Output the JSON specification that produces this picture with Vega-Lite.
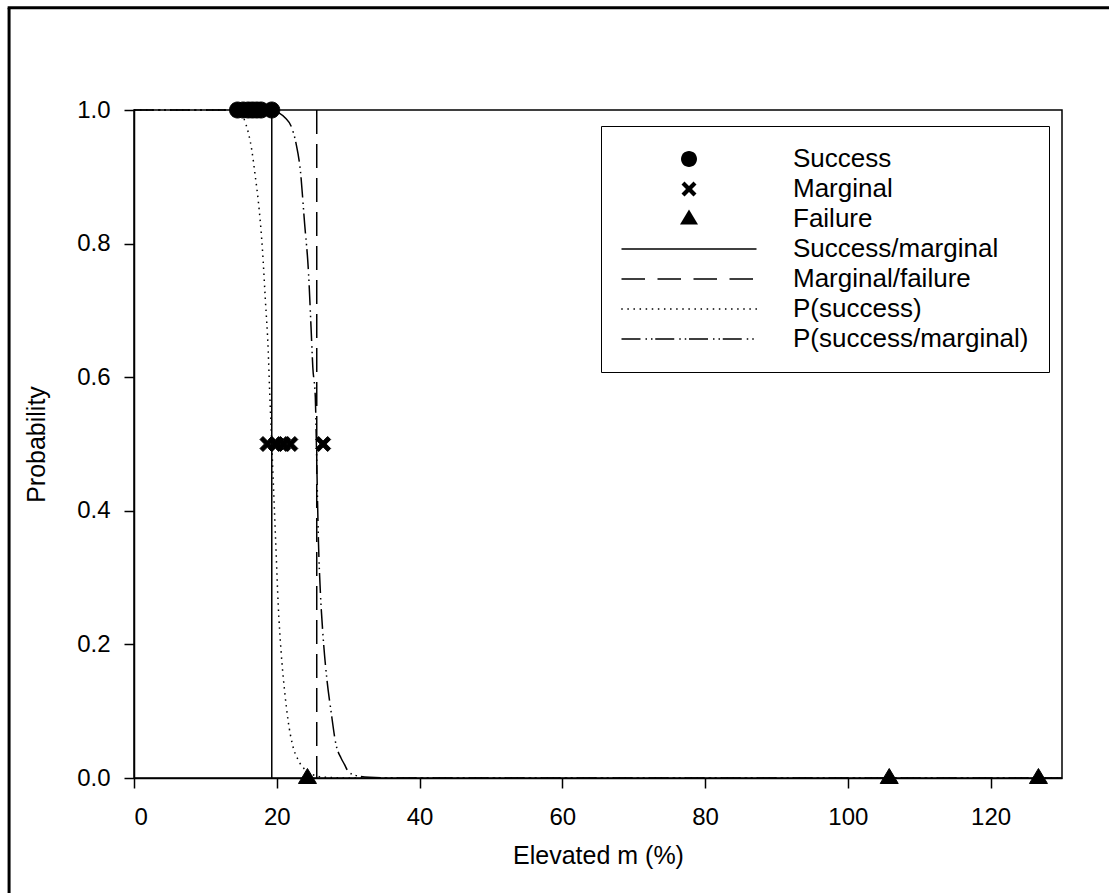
{
  "$schema": "https://vega.github.io/schema/vega-lite/v6.json",
  "width": 928,
  "height": 668,
  "autosize": {"type": "none"},
  "padding": {"left": 134, "top": 110, "right": 47, "bottom": 115},
  "background": "white",
  "config": {
    "font": "Liberation Sans",
    "view": {"stroke": "black", "strokeWidth": 1.5},
    "axis": {
      "grid": false,
      "domainColor": "black",
      "domainWidth": 1.5,
      "tickColor": "black",
      "tickWidth": 1.5,
      "tickSize": 10,
      "labelColor": "black",
      "labelFont": "Liberation Sans",
      "labelFontSize": 24,
      "titleColor": "black",
      "titleFont": "Liberation Sans",
      "titleFontSize": 25,
      "titleFontWeight": "normal"
    },
    "legend": {
      "orient": "none",
      "legendX": 467,
      "legendY": 16,
      "padding": 20,
      "strokeColor": "black",
      "fillColor": "white",
      "labelFont": "Liberation Sans",
      "labelFontSize": 26,
      "labelColor": "black",
      "labelLimit": 400,
      "rowPadding": 4,
      "symbolSize": 4,
      "symbolOffset": 55,
      "labelOffset": 91,
      "symbolFillColor": "black",
      "symbolStrokeColor": "black",
      "symbolStrokeWidth": 0
    }
  },
  "datasets": {
    "observations": [
      {"m": 14.5, "p": 1, "series": "Success"},
      {"m": 15.3, "p": 1, "series": "Success"},
      {"m": 16.0, "p": 1, "series": "Success"},
      {"m": 16.6, "p": 1, "series": "Success"},
      {"m": 17.2, "p": 1, "series": "Success"},
      {"m": 17.8, "p": 1, "series": "Success"},
      {"m": 19.3, "p": 1, "series": "Success"},
      {"m": 18.7, "p": 0.5, "series": "Marginal"},
      {"m": 19.9, "p": 0.5, "series": "Marginal"},
      {"m": 20.9, "p": 0.5, "series": "Marginal"},
      {"m": 21.9, "p": 0.5, "series": "Marginal"},
      {"m": 26.5, "p": 0.5, "series": "Marginal"},
      {"m": 24.3, "p": 0, "series": "Failure"},
      {"m": 105.8, "p": 0, "series": "Failure"},
      {"m": 126.7, "p": 0, "series": "Failure"}
    ],
    "thresholds": [
      {"m": 19.3, "series": "Success/marginal"},
      {"m": 25.6, "series": "Marginal/failure"}
    ],
    "curves": [
      {"m": 0, "p": 1, "series": "P(success)"},
      {"m": 10, "p": 1, "series": "P(success)"},
      {"m": 13, "p": 1, "series": "P(success)"},
      {"m": 14, "p": 0.999, "series": "P(success)"},
      {"m": 15, "p": 0.994, "series": "P(success)"},
      {"m": 15.7, "p": 0.978, "series": "P(success)"},
      {"m": 16.5, "p": 0.94, "series": "P(success)"},
      {"m": 17.0, "p": 0.9, "series": "P(success)"},
      {"m": 17.4, "p": 0.865, "series": "P(success)"},
      {"m": 18.0, "p": 0.79, "series": "P(success)"},
      {"m": 18.4, "p": 0.716, "series": "P(success)"},
      {"m": 18.8, "p": 0.64, "series": "P(success)"},
      {"m": 19.0, "p": 0.58, "series": "P(success)"},
      {"m": 19.3, "p": 0.5, "series": "P(success)"},
      {"m": 19.6, "p": 0.42, "series": "P(success)"},
      {"m": 19.9, "p": 0.34, "series": "P(success)"},
      {"m": 20.2, "p": 0.26, "series": "P(success)"},
      {"m": 20.6, "p": 0.19, "series": "P(success)"},
      {"m": 21.1, "p": 0.13, "series": "P(success)"},
      {"m": 21.6, "p": 0.085, "series": "P(success)"},
      {"m": 22.2, "p": 0.05, "series": "P(success)"},
      {"m": 23.0, "p": 0.027, "series": "P(success)"},
      {"m": 24.0, "p": 0.012, "series": "P(success)"},
      {"m": 25.0, "p": 0.005, "series": "P(success)"},
      {"m": 27.0, "p": 0.001, "series": "P(success)"},
      {"m": 30.0, "p": 0, "series": "P(success)"},
      {"m": 130, "p": 0, "series": "P(success)"},
      {"m": 0, "p": 1, "series": "P(success/marginal)"},
      {"m": 15, "p": 1, "series": "P(success/marginal)"},
      {"m": 18, "p": 1, "series": "P(success/marginal)"},
      {"m": 19.5, "p": 0.998, "series": "P(success/marginal)"},
      {"m": 20.4, "p": 0.995, "series": "P(success/marginal)"},
      {"m": 21.2, "p": 0.988, "series": "P(success/marginal)"},
      {"m": 22.0, "p": 0.976, "series": "P(success/marginal)"},
      {"m": 22.7, "p": 0.95, "series": "P(success/marginal)"},
      {"m": 23.3, "p": 0.91, "series": "P(success/marginal)"},
      {"m": 23.9, "p": 0.83, "series": "P(success/marginal)"},
      {"m": 24.45, "p": 0.756, "series": "P(success/marginal)"},
      {"m": 24.8, "p": 0.675, "series": "P(success/marginal)"},
      {"m": 25.05, "p": 0.615, "series": "P(success/marginal)"},
      {"m": 25.4, "p": 0.57, "series": "P(success/marginal)"},
      {"m": 25.55, "p": 0.5, "series": "P(success/marginal)"},
      {"m": 25.7, "p": 0.42, "series": "P(success/marginal)"},
      {"m": 25.85, "p": 0.35, "series": "P(success/marginal)"},
      {"m": 26.1, "p": 0.28, "series": "P(success/marginal)"},
      {"m": 26.5, "p": 0.21, "series": "P(success/marginal)"},
      {"m": 27.0, "p": 0.15, "series": "P(success/marginal)"},
      {"m": 27.6, "p": 0.1, "series": "P(success/marginal)"},
      {"m": 28.3, "p": 0.05, "series": "P(success/marginal)"},
      {"m": 29.0, "p": 0.03, "series": "P(success/marginal)"},
      {"m": 29.5, "p": 0.02, "series": "P(success/marginal)"},
      {"m": 30.0, "p": 0.01, "series": "P(success/marginal)"},
      {"m": 31.0, "p": 0.004, "series": "P(success/marginal)"},
      {"m": 33.0, "p": 0.001, "series": "P(success/marginal)"},
      {"m": 36.0, "p": 0, "series": "P(success/marginal)"},
      {"m": 130, "p": 0, "series": "P(success/marginal)"}
    ]
  },
  "layer": [
    {
      "description": "figure frame, left edge",
      "data": {"values": [{}]},
      "mark": {"type": "rule", "color": "black", "strokeWidth": 3, "clip": false},
      "encoding": {
        "x": {"datum": -17.5, "type": "quantitative", "scale": {"domain": [0, 130], "nice": false, "zero": false}},
        "y": {"datum": 1.1531, "type": "quantitative", "scale": {"domain": [0, 1], "nice": false}},
        "y2": {"datum": -2}
      }
    },
    {
      "description": "figure frame, top edge",
      "data": {"values": [{}]},
      "mark": {"type": "rule", "color": "black", "strokeWidth": 3, "clip": false},
      "encoding": {
        "x": {"datum": -17.7, "type": "quantitative"},
        "x2": {"datum": 400},
        "y": {"datum": 1.1531, "type": "quantitative"}
      }
    },
    {
      "data": {"name": "thresholds"},
      "mark": {"type": "rule", "color": "black", "strokeWidth": 1.5},
      "encoding": {
        "x": {"field": "m", "type": "quantitative"},
        "strokeDash": {"field": "series", "type": "nominal", "legend": null}
      }
    },
    {
      "data": {"name": "curves"},
      "mark": {"type": "line", "color": "black", "strokeWidth": 1.5, "interpolate": "monotone"},
      "encoding": {
        "x": {"field": "m", "type": "quantitative"},
        "y": {"field": "p", "type": "quantitative"},
        "strokeDash": {
          "field": "series", "type": "nominal", "legend": null,
          "scale": {
            "domain": ["Success/marginal", "Marginal/failure", "P(success)", "P(success/marginal)"],
            "range": [[1, 0], [24, 10], [1.5, 4.5], [20, 5, 1.5, 4, 1.5, 4]]
          }
        }
      }
    },
    {
      "data": {"name": "observations"},
      "mark": {"type": "point", "filled": true, "color": "black", "stroke": "black", "strokeWidth": 1, "size": 4, "opacity": 1},
      "encoding": {
        "x": {
          "field": "m", "type": "quantitative",
          "axis": {"title": "Elevated m (%)", "values": [0, 20, 40, 60, 80, 100, 120], "labelPadding": 17, "titlePadding": 14}
        },
        "y": {
          "field": "p", "type": "quantitative",
          "axis": {"title": "Probability", "values": [0, 0.2, 0.4, 0.6, 0.8, 1.0], "format": ".1f", "labelPadding": 14, "titlePadding": 27}
        },
        "shape": {
          "field": "series", "type": "nominal",
          "scale": {
            "domain": ["Success", "Marginal", "Failure", "Success/marginal", "Marginal/failure", "P(success)", "P(success/marginal)"],
            "range": [
              "M-8,0A8,8,0,1,1,8,0A8,8,0,1,1,-8,0Z",
              "M-7.5,-4.5L-4.5,-7.5L0,-3L4.5,-7.5L7.5,-4.5L3,0L7.5,4.5L4.5,7.5L0,3L-4.5,7.5L-7.5,4.5L-3,0Z",
              "M0,-9.5L9,5.5L-9,5.5Z",
              "M-67.5,-0.75H67.5V0.75H-67.5Z",
              "M-67.5,-0.75H-44V0.75H-67.5Z M-31.5,-0.75H-8V0.75H-31.5Z M4.5,-0.75H28V0.75H4.5Z M40.5,-0.75H64V0.75H40.5Z",
              "M-67.75,-0.75h1.5v1.5h-1.5z M-61.65,-0.75h1.5v1.5h-1.5z M-55.55,-0.75h1.5v1.5h-1.5z M-49.45,-0.75h1.5v1.5h-1.5z M-43.35,-0.75h1.5v1.5h-1.5z M-37.25,-0.75h1.5v1.5h-1.5z M-31.15,-0.75h1.5v1.5h-1.5z M-25.05,-0.75h1.5v1.5h-1.5z M-18.95,-0.75h1.5v1.5h-1.5z M-12.85,-0.75h1.5v1.5h-1.5z M-6.75,-0.75h1.5v1.5h-1.5z M-0.65,-0.75h1.5v1.5h-1.5z M5.45,-0.75h1.5v1.5h-1.5z M11.55,-0.75h1.5v1.5h-1.5z M17.65,-0.75h1.5v1.5h-1.5z M23.75,-0.75h1.5v1.5h-1.5z M29.85,-0.75h1.5v1.5h-1.5z M35.95,-0.75h1.5v1.5h-1.5z M42.05,-0.75h1.5v1.5h-1.5z M48.15,-0.75h1.5v1.5h-1.5z M54.25,-0.75h1.5v1.5h-1.5z M60.35,-0.75h1.5v1.5h-1.5z M66.45,-0.75h1.5v1.5h-1.5z",
              "M-67.5,-0.75H-48.5V0.75H-67.5Z M-43.5,-0.75H-42V0.75H-43.5Z M-38,-0.75H-36.5V0.75H-38Z M-33.75,-0.75H-14.75V0.75H-33.75Z M-9.75,-0.75H-8.25V0.75H-9.75Z M-4.25,-0.75H-2.75V0.75H-4.25Z M0,-0.75H19V0.75H0Z M24,-0.75H25.5V0.75H24Z M29.5,-0.75H31V0.75H29.5Z M33.75,-0.75H52.75V0.75H33.75Z M57.75,-0.75H59.25V0.75H57.75Z M63.25,-0.75H64.75V0.75H63.25Z"
            ]
          },
          "legend": {"title": null}
        }
      }
    }
  ]
}
